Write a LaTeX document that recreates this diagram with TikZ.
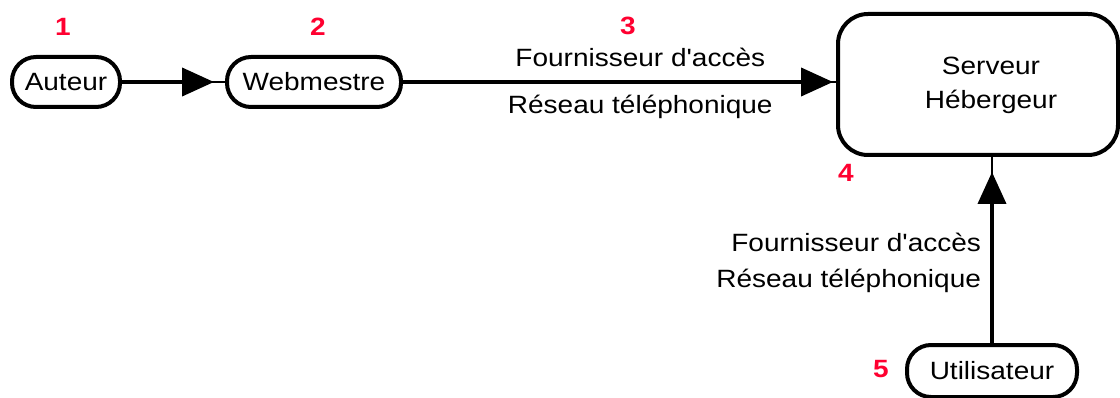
\documentclass[tikz,border=0pt]{standalone}
\usepackage{fontspec}
% plain family: no TeX ligature mapping, so ' stays a straight apostrophe
\newfontfamily\diagfont{Liberation Sans}[FakeStretch=1.12]
\usetikzlibrary{arrows.meta}
\definecolor{stepred}{RGB}{255,0,48}
\tikzset{
  pill/.style={draw, line width=4pt, rounded corners=24pt, inner sep=0pt,
               font=\diagfont\fontsize{25}{30}\selectfont},
  hostbox/.style={draw, line width=4pt, rounded corners=30pt, inner sep=0pt},
  link/.style={line width=1.6pt},
  flow/.style={line width=4pt, -{Triangle[length=32pt,width=28pt]}},
  lbl/.style={font=\diagfont\fontsize{25}{30}\selectfont, inner sep=0pt},
  stepnum/.style={font=\diagfont\fontsize{25}{30}\selectfont\bfseries, text=stepred, inner sep=0pt},
}
\begin{document}
\begin{tikzpicture}[x=1pt,y=-1pt]
\useasboundingbox (0,0) rectangle (1120,398);

% nodes
\node[pill, minimum width=108pt, minimum height=50pt] (auteur) at (66,82) {Auteur};
\node[pill, minimum width=174pt, minimum height=50pt] (webm) at (314,82) {Webmestre};
\node[hostbox, minimum width=280pt, minimum height=141pt,
      label={[lbl, align=center, xshift=13pt, yshift=-1pt, font=\diagfont\fontsize{25}{34}\selectfont]center:Serveur\\Hébergeur}]
      (serveur) at (978,84.5) {};
\node[pill, minimum width=170pt, minimum height=52pt] (util) at (992,371) {Utilisateur};

% step numbers
\node[stepnum] (n1) at (63,27) {1};
\node[stepnum] (n2) at (318,27) {2};
\node[stepnum] (n3) at (628,26) {3};
\node[stepnum] (n4) at (846,173) {4};
\node[stepnum] (n5) at (881,369) {5};

% connectors
\draw[link] (auteur.east) -- (webm.west);
\draw[flow, shorten >=11pt] (auteur.east) -- (webm.west);

\draw[link] (webm.east) -- (serveur.west |- webm.east);
\draw[flow, shorten >=3pt] (webm.east) -- (serveur.west |- webm.east)
  node[lbl, pos=0.548, yshift=25pt] (lab1) {Fournisseur d'accès}
  node[lbl, pos=0.548, yshift=-25pt] (lab2) {Réseau téléphonique};

\coordinate (up) at (serveur.south -| util.north);
\draw[link] (util.north) -- (up);
\draw[flow, shorten >=15pt] (util.north) -- (up)
  node[lbl, pos=0.43, anchor=east, xshift=-9pt, align=right,
       font=\diagfont\fontsize{25}{36}\selectfont] (lab3) {Fournisseur d'accès\\Réseau téléphonique};
\end{tikzpicture}
\end{document}
